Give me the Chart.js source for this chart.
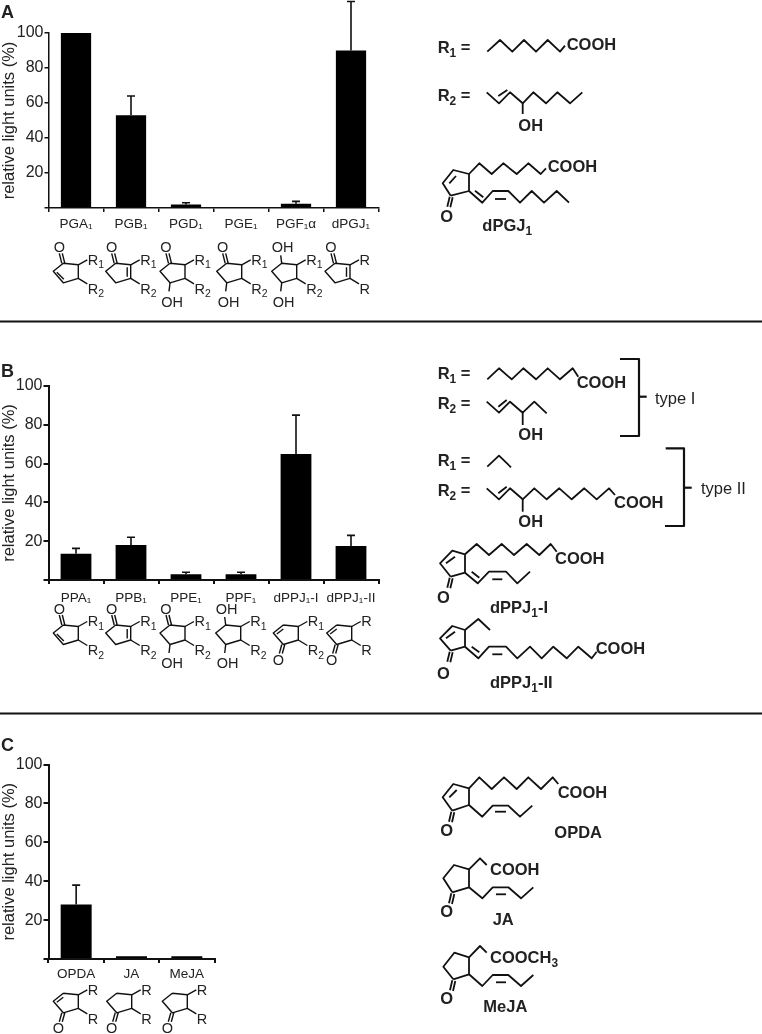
<!DOCTYPE html>
<html>
<head>
<meta charset="utf-8">
<script src="https://cdn.jsdelivr.net/npm/chart.js@4"></script>
<style>
  html, body { margin: 0; padding: 0; background: #fff; }
  #page { position: relative; width: 762px; height: 1034px; overflow: hidden; font-family: "Liberation Sans", Arial, sans-serif; }
  canvas { position: absolute; left: 0; }
  #art { position: absolute; left: 0; top: 0; }
</style>
</head>
<body>
<div id="page">
  <canvas id="chartA" width="400" height="240" style="top:0"></canvas>
  <canvas id="chartB" width="400" height="250" style="top:360px"></canvas>
  <canvas id="chartC" width="400" height="262" style="top:730px"></canvas>
  <svg id="art" width="762" height="1034"></svg>
</div>
<script>
// values
const yTicks = [0, 20, 40, 60, 80, 100];

const categoriesA = ['PGA₁', 'PGB₁', 'PGD₁', 'PGE₁', 'PGF₁α', 'dPGJ₁'];
const valuesA = [100, 53, 2, 0, 2.5, 90];
const errorsA = [0, 11, 1, 0, 1.3, 28];

const categoriesB = ['PPA₁', 'PPB₁', 'PPE₁', 'PPF₁', 'dPPJ₁-I', 'dPPJ₁-II'];
const valuesB = [13.5, 18, 3, 3, 65, 17.5];
const errorsB = [2.8, 4, 1, 1, 20, 5.5];

const categoriesC = ['OPDA', 'JA', 'MeJA'];
const valuesC = [28, 1.4, 1.4];
const errorsC = [10, 0, 0];

const INK = '#111';
const TEXT = '#222';
const FONT = '"Liberation Sans", Arial, sans-serif';

// one-sided error bars, positioned by the chart's own scales
const errorBars = {
    id: 'errorBars',
    afterDatasetsDraw(chart, args, opts) {
        const ctx = chart.ctx;
        const meta = chart.getDatasetMeta(0);
        const y = chart.scales.y;
        ctx.save();
        ctx.strokeStyle = INK;
        ctx.lineWidth = 1.6;
        opts.errors.forEach((err, i) => {
            if (!err) return;
            const x = meta.data[i].x;
            const y0 = y.getPixelForValue(chart.data.datasets[0].data[i]);
            const y1 = y.getPixelForValue(chart.data.datasets[0].data[i] + err);
            ctx.beginPath();
            ctx.moveTo(x, y0);
            ctx.lineTo(x, y1);
            ctx.moveTo(x - 4, y1);
            ctx.lineTo(x + 4, y1);
            ctx.stroke();
        });
        ctx.restore();
    }
};

function makeChart(id, labels, values, errors, g) {
    return new Chart(document.getElementById(id), {
        type: 'bar',
        data: { labels: labels, datasets: [{ data: values, backgroundColor: '#000', barPercentage: g.bar, categoryPercentage: 1 }] },
        plugins: [errorBars],
        options: {
            responsive: false,
            animation: false,
            layout: { padding: { top: g.top, right: g.right, left: 0, bottom: 0 } },
            plugins: { legend: { display: false }, tooltip: { enabled: false }, errorBars: { errors: errors } },
            scales: {
                y: {
                    min: 0,
                    max: 100,
                    afterFit: s => { s.width = g.axisX; },
                    afterBuildTicks: s => { s.ticks = yTicks.map(v => ({ value: v })); },
                    border: { color: INK, width: g.line },
                    grid: { drawOnChartArea: false, color: INK, lineWidth: g.line, tickLength: g.tick },
                    ticks: { color: TEXT, padding: 1, font: { family: FONT, size: 16 }, callback: v => (v === 0 ? '' : v) },
                    title: { display: true, text: 'relative light units (%)', color: TEXT, padding: { top: 0, bottom: 0 }, font: { family: FONT, size: 16.5 } }
                },
                x: {
                    afterFit: s => { s.height = g.below; },
                    border: { color: INK, width: g.line },
                    grid: { drawOnChartArea: false, color: INK, lineWidth: g.line, tickLength: 4, offset: true },
                    ticks: { color: TEXT, padding: g.labelGap, autoSkip: false, maxRotation: 0, font: { family: FONT, size: 13.5 } }
                }
            }
        }
    });
}

makeChart('chartA', categoriesA, valuesA, errorsA, { top: 33, right: 21.5, axisX: 48.5, below: 32, bar: 0.55, line: 1.5, tick: 4, labelGap: 4 });
makeChart('chartB', categoriesB, valuesB, errorsB, { top: 26, right: 21.5, axisX: 48.5, below: 30, bar: 0.56, line: 2, tick: 5, labelGap: 6 });
makeChart('chartC', categoriesC, valuesC, errorsC, { top: 34.5, right: 185.5, axisX: 48.5, below: 33, bar: 0.56, line: 2, tick: 5, labelGap: 3 });

// ---- chemical structures and page furniture, drawn as svg ----
let svg = '';

function line(pts, w) {
    svg += '<polyline fill="none" stroke="' + INK + '" stroke-width="' + (w || 1.4) + '" stroke-linejoin="round" points="' + pts.map(p => p[0].toFixed(1) + ',' + p[1].toFixed(1)).join(' ') + '"/>';
}

// text placed by its left edge (or middle) and vertical centre
function label(x, cy, str, o) {
    o = o || {};
    const size = o.size || 14;
    const anchor = o.middle ? 'middle' : 'start';
    const weight = o.bold ? 'bold' : 'normal';
    let body = str;
    if (o.sub) {
        body += '<tspan font-size="' + size * 0.72 + '" dy="' + size * 0.25 + '">' + o.sub + '</tspan>';
        if (o.tail) body += '<tspan dy="' + (-size * 0.25) + '">' + o.tail + '</tspan>';
    }
    svg += '<text x="' + x + '" y="' + (cy + size * 0.36) + '" font-size="' + size + '" font-weight="' + weight + '" text-anchor="' + anchor + '" fill="' + TEXT + '" font-family=\'' + FONT + '\'>' + body + '</text>';
}

// small cyclopentane under the bars, tx/ty is the top left ring carbon
function smallRing(tx, ty, o) {
    const T = [tx, ty], RT = [tx + 15, ty + 1.5], RB = [tx + 15, ty + 15], BL = [tx, ty + 19.5], L = [tx - 10, ty + 8];
    line([T, RT, RB, BL, L, T], 1.4);
    if (o.dbl === 'left') line([[L[0] + 3.5, L[1] + 1], [BL[0] + 0.5, BL[1] - 3.5]], 1.4);
    if (o.dbl === 'right') line([[RT[0] - 3.5, RT[1] + 2.5], [RB[0] - 3.5, RB[1] - 1.5]], 1.4);
    if (o.dbl === 'top') line([[L[0] + 3.5, L[1] + 1], [T[0], T[1] + 4]], 1.4);
    if (o.ketone === 'top') {
        line([[T[0] - 1.5, T[1]], [T[0] - 4, T[1] - 10]], 1.4);
        line([[T[0] + 1.5, T[1]], [T[0] - 1, T[1] - 10]], 1.4);
        label(tx - 4, ty - 16.5, 'O', { middle: true, size: 14.5 });
    }
    if (o.ketone === 'bottom') {
        line([[BL[0] - 1.5, BL[1]], [BL[0] - 4, BL[1] + 9]], 1.4);
        line([[BL[0] + 1.5, BL[1]], [BL[0] - 1, BL[1] + 9]], 1.4);
        label(tx - 5, ty + 34.5, 'O', { middle: true, size: 14.5 });
    }
    if (o.ohTop) {
        line([T, [tx - 1, ty - 8]], 1.4);
        label(tx + 1, ty - 16.5, 'OH', { middle: true, size: 14.5 });
    }
    if (o.ohBottom) {
        line([BL, [tx - 1, ty + 28]], 1.4);
        label(tx + 2, ty + 38, 'OH', { middle: true, size: 14.5 });
    }
    line([RT, [tx + 24, ty - 3.5]], 1.4);
    line([RB, [tx + 24, ty + 20.5]], 1.4);
    label(tx + 24.5, ty - 4, 'R', { sub: o.r1, size: 14.5 });
    label(tx + 24.5, ty + 25, 'R', { sub: o.r2, size: 14.5 });
}

// panel A ring row
smallRing(63.3, 263.3, { ketone: 'top', dbl: 'left', r1: '1', r2: '2' });
smallRing(115.7, 263.3, { ketone: 'top', dbl: 'right', r1: '1', r2: '2' });
smallRing(170, 263.3, { ketone: 'top', ohBottom: true, r1: '1', r2: '2' });
smallRing(226.7, 263.3, { ketone: 'top', ohBottom: true, r1: '1', r2: '2' });
smallRing(281.7, 263.3, { ohTop: true, ohBottom: true, r1: '1', r2: '2' });
smallRing(335, 263.3, { ketone: 'top', dbl: 'right', r1: '', r2: '' });

// panel B ring row
smallRing(63.3, 625, { ketone: 'top', dbl: 'left', r1: '1', r2: '2' });
smallRing(115.7, 625, { ketone: 'top', dbl: 'right', r1: '1', r2: '2' });
smallRing(170, 625, { ketone: 'top', ohBottom: true, r1: '1', r2: '2' });
smallRing(225.7, 625, { ohTop: true, ohBottom: true, r1: '1', r2: '2' });
smallRing(283.3, 625, { ketone: 'bottom', dbl: 'top', r1: '1', r2: '2' });
smallRing(336.7, 625, { ketone: 'bottom', dbl: 'top', r1: '', r2: '' });

// panel C ring row
smallRing(63.3, 993.3, { ketone: 'bottom', dbl: 'top', r1: '', r2: '' });
smallRing(116.7, 993.3, { ketone: 'bottom', r1: '', r2: '' });
smallRing(172.3, 993.3, { ketone: 'bottom', r1: '', r2: '' });

// big structures: coordinates taken from 3x crops, so convert on the way in
function zoomed(ox, oy) {
    return {
        l: (pts, w) => line(pts.map(p => [ox + p[0] / 3, oy + p[1] / 3]), w || 1.8),
        t: (x, cy, s, o) => label(ox + x / 3, oy + cy / 3, s, Object.assign({ bold: true, size: 16.5 }, o))
    };
}

function bigRing(z, ket, L, T, RT, RB, oText, inner) {
    z.l([ket, L, T, RT, RB, ket]);
    if (inner) z.l(inner);
    z.l([[ket[0] - 3, ket[1] + 3], [ket[0] - 10, ket[1] + 33]]);
    z.l([[ket[0] + 6, ket[1] + 5], [ket[0] - 1, ket[1] + 35]]);
    z.t(oText[0], oText[1], 'O', { middle: true });
}

// panel A structures
let z = zoomed(420, 20);
z.t(53, 82, 'R', { sub: '1', tail: ' =' });
z.l([[202, 95], [240, 60], [277, 95], [312, 60], [348, 95], [383, 60], [420, 95], [435, 77]]);
z.t(440, 73, 'COOH');
z.t(53, 225, 'R', { sub: '2', tail: ' =' });
z.l([[200, 217], [237, 250], [270, 217], [308, 250], [340, 217], [378, 250], [412, 217], [450, 250], [487, 217]]);
z.l([[235, 228], [262, 210]]);
z.l([[308, 250], [308, 282]]);
z.t(295, 315, 'OH');
bigRing(z, [92, 527], [68, 490], [100, 450], [147, 462], [147, 513], [80, 588], [[88, 490], [108, 468]]);
z.l([[147, 462], [178, 430], [215, 462], [250, 430], [290, 462], [325, 430], [362, 462], [378, 445]]);
z.t(383, 437, 'COOH');
z.l([[147, 513], [187, 548], [218, 513], [265, 513], [300, 548], [335, 513], [372, 548], [410, 513], [447, 548]]);
z.l([[165, 512], [190, 532]]);
z.l([[225, 537], [258, 537]]);
z.t(187, 615, 'dPGJ', { sub: '1' });

// panel B structures
z = zoomed(420, 345);
z.t(53, 85, 'R', { sub: '1', tail: ' =' });
z.l([[202, 103], [237, 70], [275, 103], [310, 70], [348, 103], [383, 70], [420, 103], [458, 70], [475, 95]]);
z.t(470, 112, 'COOH');
z.t(53, 175, 'R', { sub: '2', tail: ' =' });
z.l([[200, 170], [237, 203], [270, 170], [308, 203], [343, 170], [380, 205]]);
z.l([[235, 185], [260, 165]]);
z.l([[308, 203], [308, 240]]);
z.t(295, 268, 'OH');
z.l([[600, 42], [657, 42], [657, 273], [600, 273]], 2.2);
z.l([[657, 155], [680, 155]], 2.2);
z.t(705, 158, 'type I', { bold: false });
z.t(53, 345, 'R', { sub: '1', tail: ' =' });
z.l([[202, 365], [237, 332], [273, 367]]);
z.t(53, 435, 'R', { sub: '2', tail: ' =' });
z.l([[200, 430], [237, 463], [270, 430], [308, 463], [343, 430], [380, 463], [418, 430], [455, 463], [493, 430], [530, 463], [567, 430], [585, 450]]);
z.l([[235, 445], [260, 425]]);
z.l([[308, 463], [308, 500]]);
z.t(295, 528, 'OH');
z.t(582, 470, 'COOH');
z.l([[737, 310], [792, 310], [792, 543], [735, 543]], 2.2);
z.l([[792, 428], [815, 428]], 2.2);
z.t(843, 428, 'type II', { bold: false });

bigRing(z, [92, 695], [60, 655], [97, 617], [135, 628], [135, 683], [70, 757], [[78, 655], [105, 635]]);
z.l([[135, 628], [170, 597], [207, 630], [245, 597], [282, 630], [320, 597], [358, 630], [392, 597], [410, 620]]);
z.t(405, 640, 'COOH');
z.l([[135, 683], [173, 715], [207, 680], [258, 680], [292, 715], [330, 680]]);
z.l([[155, 680], [178, 698]]);
z.l([[217, 703], [247, 703]]);
z.t(210, 787, 'dPPJ', { sub: '1', tail: '-I' });

bigRing(z, [92, 917], [60, 880], [97, 843], [135, 855], [135, 905], [70, 983], [[78, 880], [105, 860]]);
z.l([[135, 855], [175, 822], [210, 855]]);
z.l([[135, 905], [175, 940], [207, 905], [258, 905], [292, 940], [330, 905], [365, 940], [400, 905], [440, 940], [475, 905], [515, 940], [530, 920]]);
z.l([[155, 905], [178, 922]]);
z.l([[217, 928], [247, 928]]);
z.t(527, 908, 'COOH');
z.t(210, 1012, 'dPPJ', { sub: '1', tail: '-II' });

// panel C structures
z = zoomed(420, 770);
bigRing(z, [97, 122], [68, 82], [100, 42], [147, 55], [147, 105], [80, 180], [[88, 82], [110, 60]]);
z.l([[147, 55], [178, 22], [215, 57], [252, 22], [290, 57], [325, 22], [363, 57], [398, 22], [415, 42]]);
z.t(413, 65, 'COOH');
z.l([[147, 105], [187, 140], [218, 107], [265, 107], [300, 140], [337, 107]]);
z.l([[225, 125], [258, 125]]);
z.t(403, 187, 'OPDA');

bigRing(z, [97, 367], [70, 325], [102, 285], [147, 298], [147, 352], [80, 423]);
z.l([[147, 298], [180, 265], [200, 285]]);
z.t(210, 297, 'COOH');
z.l([[147, 352], [187, 385], [218, 352], [265, 352], [303, 385], [340, 352]]);
z.l([[228, 373], [258, 373]]);
z.t(218, 447, 'JA');

bigRing(z, [100, 628], [70, 590], [103, 548], [147, 562], [147, 613], [80, 685]);
z.l([[147, 562], [180, 528], [200, 548]]);
z.t(210, 562, 'COOCH', { sub: '3' });
z.l([[147, 613], [187, 648], [218, 615], [265, 615], [303, 648], [340, 615]]);
z.l([[228, 637], [258, 637]]);
z.t(190, 708, 'MeJA');

// panel letters and dividers
label(1, 12, 'A', { bold: true, size: 18 });
label(1, 371, 'B', { bold: true, size: 18 });
label(1, 745, 'C', { bold: true, size: 18 });
line([[0, 321.5], [762, 321.5]], 1.8);
line([[0, 713.5], [762, 713.5]], 1.8);

document.getElementById('art').innerHTML = svg;
</script>
</body>
</html>
